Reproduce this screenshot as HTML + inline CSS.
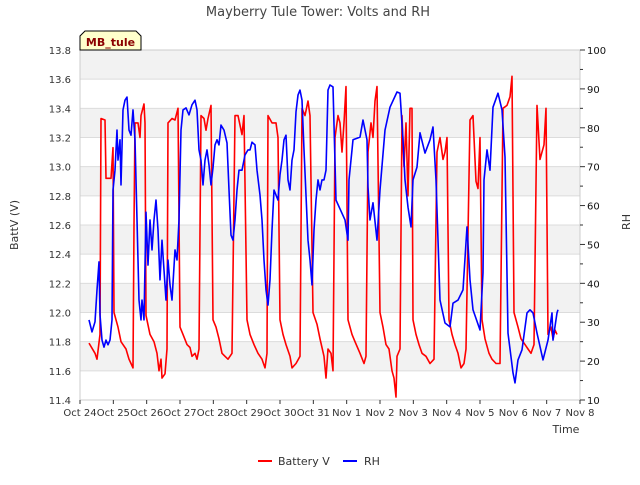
<!DOCTYPE html>
<html><head><meta charset="utf-8"><style>
body{margin:0;background:#fff;font-family:"Liberation Sans","DejaVu Sans",sans-serif}
svg text{font-family:"DejaVu Sans","Liberation Sans",sans-serif}
</style></head><body>
<svg id="chart" width="640" height="480" xmlns="http://www.w3.org/2000/svg">
<text x="318" y="16" text-anchor="middle" font-size="13" fill="#444">Mayberry Tule Tower: Volts and RH</text>
<g id="bands"></g>
<g id="grid"></g>
<rect x="80" y="50" width="500" height="350" fill="none" stroke="#ccc"/>
<g id="axes"></g>
<g id="series"></g>
<text transform="translate(18,225) rotate(-90)" text-anchor="middle" font-size="11" fill="#333">BattV (V)</text>
<text transform="translate(630,222) rotate(-90)" text-anchor="middle" font-size="11" fill="#333">RH</text>
<text x="566" y="433" text-anchor="middle" font-size="11" fill="#333">Time</text>
<g>
<path d="M80,50 L80,36 L85,31 L136,31 L141,36 L141,50 Z" fill="#ffffcc" stroke="#000" stroke-width="1"/>
<text x="110.5" y="46" text-anchor="middle" font-size="11" font-weight="bold" fill="#8b0000">MB_tule</text>
</g>
<g>
<g><line x1="258" y1="461" x2="272" y2="461" stroke="#f00" stroke-width="2"/><text x="278" y="465" font-size="11" fill="#333">Battery V</text></g>
<g><line x1="343" y1="461" x2="357" y2="461" stroke="#00f" stroke-width="2"/><text x="364" y="465" font-size="11" fill="#333">RH</text></g>
</g>
</svg>
<script>
const xTickLabels=["Oct 24","Oct 25","Oct 26","Oct 27","Oct 28","Oct 29","Oct 30","Oct 31","Nov 1","Nov 2","Nov 3","Nov 4","Nov 5","Nov 6","Nov 7","Nov 8"];
const leftTicks=[11.4,11.6,11.8,12.0,12.2,12.4,12.6,12.8,13.0,13.2,13.4,13.6,13.8];
const rightTicks=[10,20,30,40,50,60,70,80,90,100];
const battT=[.27,.45,.51,.60,.63,.75,.78,.93,.99,1.02,1.14,1.23,1.38,1.47,1.53,1.59,1.62,1.65,1.74,1.80,1.83,1.92,1.95,1.98,2.10,2.22,2.31,2.37,2.43,2.46,2.55,2.61,2.64,2.76,2.85,2.94,3.00,3.09,3.21,3.30,3.36,3.45,3.51,3.57,3.63,3.72,3.78,3.84,3.93,3.99,4.08,4.17,4.26,4.35,4.44,4.56,4.65,4.74,4.86,4.92,5.01,5.10,5.22,5.34,5.46,5.55,5.61,5.64,5.76,5.88,5.94,6.00,6.09,6.18,6.30,6.36,6.48,6.60,6.66,6.75,6.84,6.90,6.99,7.11,7.20,7.32,7.38,7.44,7.53,7.59,7.65,7.74,7.80,7.86,7.92,7.98,8.04,8.16,8.25,8.40,8.52,8.58,8.64,8.73,8.79,8.85,8.91,9.00,9.09,9.18,9.27,9.36,9.42,9.48,9.51,9.60,9.66,9.72,9.78,9.84,9.90,9.96,9.99,10.08,10.17,10.26,10.38,10.50,10.62,10.71,10.80,10.89,10.95,11.01,11.07,11.16,11.25,11.34,11.43,11.52,11.58,11.70,11.79,11.88,11.94,12.00,12.06,12.15,12.27,12.36,12.48,12.60,12.69,12.81,12.90,12.96,13.02,13.14,13.23,13.35,13.44,13.53,13.62,13.71,13.80,13.86,13.92,13.98,14.04,14.13,14.19,14.25,14.31];
const battV=[11.79,11.72,11.68,11.85,13.33,13.32,12.92,12.92,13.13,12.0,11.9,11.8,11.75,11.68,11.65,11.62,12.6,13.3,13.3,13.2,13.35,13.43,13.3,11.98,11.85,11.8,11.72,11.6,11.68,11.55,11.58,11.75,13.3,13.33,13.32,13.4,11.9,11.85,11.78,11.76,11.7,11.72,11.68,11.75,13.35,13.33,13.25,13.33,13.42,11.95,11.9,11.82,11.72,11.7,11.68,11.72,13.35,13.35,13.22,13.35,11.95,11.85,11.78,11.72,11.68,11.62,11.72,13.35,13.3,13.3,13.2,11.95,11.85,11.78,11.7,11.62,11.65,11.7,13.4,13.35,13.45,13.35,12.0,11.92,11.82,11.7,11.55,11.75,11.72,11.6,13.2,13.35,13.3,13.1,13.3,13.55,11.95,11.85,11.8,11.72,11.65,11.7,13.1,13.3,13.2,13.45,13.55,12.0,11.9,11.78,11.75,11.6,11.55,11.42,11.7,11.75,13.35,13.0,13.3,12.8,13.4,13.4,11.95,11.85,11.78,11.72,11.7,11.65,11.68,13.1,13.2,13.05,13.1,13.2,11.95,11.85,11.78,11.72,11.62,11.65,11.75,13.32,13.35,12.9,12.85,13.2,11.95,11.82,11.72,11.68,11.65,11.65,13.4,13.42,13.48,13.62,12.0,11.9,11.82,11.78,11.75,11.72,11.78,13.42,13.05,13.1,13.15,13.4,11.85,11.9,11.82,11.88,11.85];
const rhT=[.27,.36,.45,.51,.57,.60,.66,.72,.78,.84,.90,.96,.99,1.05,1.11,1.14,1.20,1.23,1.29,1.35,1.41,1.47,1.53,1.59,1.65,1.71,1.77,1.83,1.86,1.92,1.98,2.04,2.10,2.16,2.22,2.28,2.34,2.40,2.46,2.52,2.58,2.64,2.70,2.76,2.85,2.91,2.97,3.03,3.09,3.18,3.27,3.36,3.45,3.51,3.57,3.63,3.69,3.75,3.81,3.87,3.93,3.99,4.05,4.11,4.17,4.23,4.32,4.41,4.47,4.53,4.59,4.65,4.71,4.77,4.86,4.95,5.04,5.10,5.16,5.25,5.31,5.40,5.46,5.52,5.58,5.64,5.70,5.76,5.82,5.88,5.94,6.00,6.06,6.12,6.18,6.24,6.30,6.36,6.42,6.48,6.54,6.60,6.66,6.72,6.78,6.84,6.90,6.96,7.02,7.08,7.14,7.20,7.26,7.32,7.38,7.44,7.50,7.59,7.68,7.95,8.04,8.07,8.16,8.19,8.40,8.49,8.61,8.64,8.70,8.79,8.91,9.00,9.15,9.30,9.51,9.60,9.69,9.75,9.84,9.93,9.99,10.11,10.20,10.35,10.50,10.59,10.68,10.80,10.95,11.10,11.19,11.34,11.49,11.61,11.70,11.79,12.00,12.09,12.12,12.21,12.30,12.39,12.54,12.66,12.75,12.84,12.99,13.05,13.14,13.26,13.41,13.50,13.59,13.71,13.89,14.04,14.16,14.19,14.31,14.34];
const rhV=[30.6,27.5,30.1,38.3,45.5,31.9,25.4,23.6,25.4,24.2,25.4,30.6,64.0,69.1,79.4,71.7,76.9,65.3,84.6,87.1,87.9,79.4,78.1,84.6,76.9,56.3,35.7,30.6,35.7,30.6,58.3,44.7,56.3,48.6,56.3,61.4,53.7,40.9,51.1,43.4,35.7,46.0,39.6,35.7,48.6,46.0,56.3,79.4,84.6,85.1,83.3,85.9,87.1,84.6,74.3,71.7,65.3,71.7,74.3,70.4,65.3,69.7,75.6,76.9,75.6,80.7,79.4,76.1,64.0,52.4,51.1,56.3,64.0,69.1,69.1,73.0,74.3,74.3,76.3,75.6,69.1,62.7,56.3,46.0,38.3,34.4,40.9,53.7,64.0,62.7,61.4,67.9,71.7,76.9,78.1,66.6,64.0,71.7,74.3,84.1,88.4,89.7,87.1,74.3,62.7,51.1,46.0,39.6,53.7,61.4,66.6,64.0,66.6,66.6,69.1,89.7,91.0,90.5,61.4,56.3,51.1,66.6,74.3,76.9,77.6,82.0,76.9,64.8,56.3,60.7,51.1,64.0,79.4,85.3,89.2,88.9,76.9,66.6,59.6,54.5,66.6,69.9,78.7,73.5,76.9,80.2,66.6,35.7,29.8,28.8,34.9,35.7,38.3,54.5,40.9,33.2,28.0,42.7,66.6,74.3,69.1,85.3,88.9,84.6,72.5,27.2,17.0,14.4,20.3,22.9,32.4,33.2,32.4,27.2,20.3,25.4,32.4,25.4,32.4,33.2];

const NS="http://www.w3.org/2000/svg";
const X0=80,X1=580,Y0=50,Y1=400;
const xs=d=>X0+d*(X1-X0)/15;
const yL=v=>Y1-(v-11.4)*(Y1-Y0)/2.4;
const yR=v=>Y1-(v-10)*(Y1-Y0)/90;
function mk(tag,attrs,parent){const e=document.createElementNS(NS,tag);for(const k in attrs)e.setAttribute(k,attrs[k]);parent.appendChild(e);return e;}
const bands=document.getElementById('bands'),grid=document.getElementById('grid'),axes=document.getElementById('axes'),series=document.getElementById('series');
mk('rect',{x:X0,y:Y0,width:X1-X0,height:Y1-Y0,fill:'#fff'},bands);
for(let i=0;i<leftTicks.length-1;i++){
  if(i%2===1){const r=mk('rect',{x:X0,y:yL(leftTicks[i+1]),width:X1-X0,height:yL(leftTicks[i])-yL(leftTicks[i+1]),fill:'#f2f2f2'},bands);
  
  }
}
leftTicks.forEach(v=>{
  const y=yL(v);
  const g=mk('line',{x1:X0,x2:X1,y1:y,y2:y,stroke:'#dcdcdc'},grid);
  
  
  const t=mk('text',{x:X0-9,y:y+4,'text-anchor':'end','font-size':'10',fill:'#333'},axes);
  t.textContent=v.toFixed(1);
  
  
});
rightTicks.forEach(v=>{
  const y=yR(v);
  mk('line',{x1:X1,x2:X1+5,y1:y,y2:y,stroke:'#333'},axes);
  if(v<100) mk('line',{x1:X1,x2:X1+3,y1:yR(v+5),y2:yR(v+5),stroke:'#333'},axes);
  const t=mk('text',{x:X1+7,y:y+4,'font-size':'10',fill:'#111'},axes);
  t.textContent=v;
  
  
});
xTickLabels.forEach((s,i)=>{
  const x=xs(i);
  mk('line',{x1:x,x2:x,y1:Y1,y2:Y1+4,stroke:'#333'},axes);
  const t=mk('text',{x:x,y:Y1+16,'text-anchor':'middle','font-size':'10',fill:'#333'},axes);
  t.textContent=s;
  
  
});
const pb=mk('polyline',{points:battT.map((t,i)=>xs(t).toFixed(1)+','+yL(battV[i]).toFixed(1)).join(' '),fill:'none',stroke:'#f00','stroke-width':'1.6','stroke-linejoin':'round'},series);


const pr=mk('polyline',{points:rhT.map((t,i)=>xs(t).toFixed(1)+','+yR(rhV[i]).toFixed(1)).join(' '),fill:'none',stroke:'#00f','stroke-width':'1.6','stroke-linejoin':'round'},series);


</script>
</body></html>
